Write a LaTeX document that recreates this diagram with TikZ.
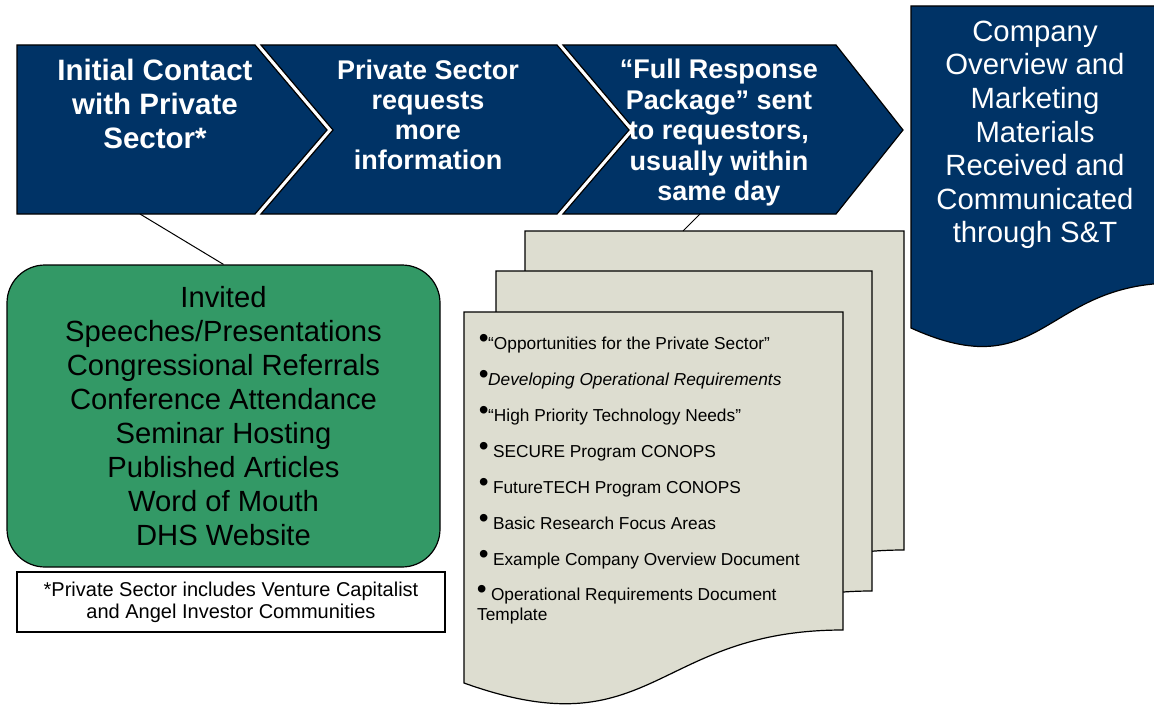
\documentclass[tikz,border=0pt]{standalone}
\usepackage{fontspec}
\setmainfont{Liberation Sans}
\usepackage{xcolor}
\usetikzlibrary{positioning}
\definecolor{navy}{RGB}{0,51,102}
\definecolor{venuegreen}{RGB}{51,153,102}
\definecolor{paper}{RGB}{221,221,208}
\tikzset{
  chev/.style={fill=navy, draw=black, line width=1.2pt, line join=miter},
  chevtext/.style={text=white, align=center, inner sep=0pt, font=\bfseries\fontsize{27}{30}\selectfont},
  page/.style={fill=paper, draw=black, line width=1.2pt},
  item/.style={anchor=base west, inner sep=0pt, font=\fontsize{17.3}{20}\selectfont},
}
\newcommand{\dotbul}{{\fontsize{28}{28}\selectfont\raisebox{1.5pt}[12pt][0pt]{\makebox[9pt][c]{•}}}}

\begin{document}
\begin{tikzpicture}[x=1pt, y=-1pt]
\useasboundingbox (0,0) rectangle (1154,709);
% chevrons
\draw[chev] (17,45) -- (255,45) -- (327,130) -- (255,214) -- (17,214) -- cycle;
\draw[chev] (261,45) -- (557,45) -- (629,130) -- (557,214) -- (261,214) -- (333,130) -- cycle;
\draw[chev] (563,45) -- (836,45) -- (903,130) -- (836,214) -- (563,214) -- (635,130) -- cycle;
\node[chevtext, font=\bfseries\fontsize{29.5}{34}\selectfont] (contact) at (155,104) {Initial Contact\\with Private\\Sector*};
\node[chevtext] (request) at (428,115) {Private Sector\\requests\\more\\information};
\node[chevtext, font=\bfseries\fontsize{27}{30.5}\selectfont] (package) at (719,133) {“Full Response\\Package” sent\\to requestors,\\usually within\\same day};
\coordinate (contactfoot) at (140,214);
\coordinate (packagefoot) at (700,214);

% banner
\draw[fill=navy, draw=black, line width=1.2pt] (911,6) -- (1175,6) -- (1175,283)
  .. controls (1043,283) and (1043,388) .. (911,328) -- cycle;
\node[text=white, align=center, inner sep=0pt, font=\fontsize{29.3}{33.6}\selectfont] (received) at (1035,135)
  {Company\\Overview and\\Marketing\\Materials\\Received and\\Communicated\\through S\&T};

% venues
\node[fill=venuegreen, draw=black, line width=1.2pt, rounded corners=38pt,
  minimum width=433pt, minimum height=302pt, inner sep=0pt, align=center,
  font=\fontsize{29.2}{34}\selectfont] (venues) at (223.5,416)
  {Invited\\Speeches/Presentations\\Congressional Referrals\\Conference Attendance\\Seminar Hosting\\Published Articles\\Word of Mouth\\DHS Website};
\node[fill=white, draw=black, line width=1.2pt, minimum width=428pt, minimum height=60pt,
  inner sep=0pt, align=center, font=\fontsize{20}{22}\selectfont] (footnote) at (231,602)
  {*Private Sector includes Venture Capitalist\\and Angel Investor Communities};

% package pages
\draw[page] (525,231) -- (904,231) -- (904,550) .. controls (714.5,550) and (714.5,672) .. (525,603) -- cycle;
\draw[page] (496,271) -- (872,271) -- (872,591) .. controls (684,591) and (684,713) .. (496,644) -- cycle;
\draw[page] (464,312) -- (843,312) -- (843,630) .. controls (653.5,630) and (653.5,751) .. (464,683) -- cycle;
\coordinate (packagetop) at (683,231);

\node[item] (doc1) at (479,349) {\dotbul“Opportunities for the Private Sector”};
\node[item] (doc2) at (479,385) {\dotbul\textit{Developing Operational Requirements}};
\node[item] (doc3) at (479,421) {\dotbul“High Priority Technology Needs”};
\node[item] (doc4) at (479,457) {\dotbul\ SECURE Program CONOPS};
\node[item] (doc5) at (479,493) {\dotbul\ FutureTECH Program CONOPS};
\node[item] (doc6) at (479,529) {\dotbul\ Basic Research Focus Areas};
\node[item] (doc7) at (479,565) {\dotbul\ Example Company Overview Document};
\node[item, anchor=west, align=left] (doc8) at (477,606) {\dotbul\ Operational Requirements Document\\Template};

% connectors
\draw[line width=1pt] (contactfoot) -- (venues.north);
\draw[line width=1pt] (packagefoot) -- (packagetop);
\end{tikzpicture}
\end{document}
